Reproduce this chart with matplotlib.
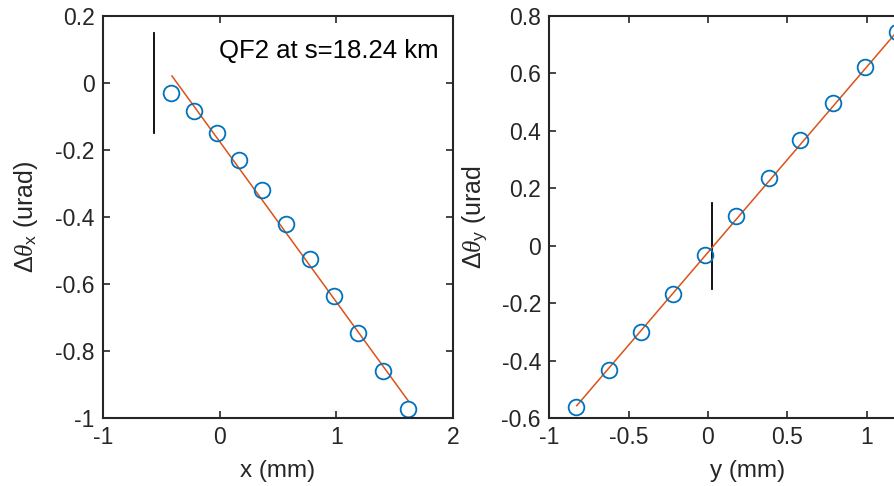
# Two-panel orbit response fit, QF2 at s=18.24 km
import numpy as np
import matplotlib
matplotlib.use('Agg')
import matplotlib.pyplot as plt
from matplotlib.ticker import FormatStrFormatter

plt.rcParams['font.family'] = ['Liberation Sans', 'DejaVu Sans']
plt.rcParams['axes.unicode_minus'] = False
plt.rcParams['mathtext.fontset'] = 'custom'
plt.rcParams['mathtext.rm'] = 'Liberation Sans'
plt.rcParams['mathtext.it'] = 'Liberation Serif:italic'

# Horizontal plane
x_mm = [-0.417, -0.223, -0.026, 0.168, 0.365, 0.565, 0.771, 0.977, 1.185, 1.40, 1.617]
dthx = [-0.031, -0.084, -0.150, -0.231, -0.320, -0.420, -0.525, -0.635, -0.747, -0.861, -0.973]
fitx_x = [-0.409, 1.617]
fitx_y = [0.021, -0.949]
markx = -0.563

# Vertical plane
y_mm = [-0.830, -0.622, -0.424, -0.221, -0.021, 0.178, 0.382, 0.580, 0.788, 0.991, 1.19]
dthy = [-0.561, -0.432, -0.301, -0.167, -0.032, 0.102, 0.237, 0.368, 0.498, 0.623, 0.745]
fity_x = [-0.827, 1.19]
fity_y = [-0.557, 0.745]
marky = 0.027

mark_half = 0.15
label_text = 'QF2 at s=18.24 km'

xticks1 = [-1, 0, 1, 2]
yticks1 = [-1, -0.8, -0.6, -0.4, -0.2, 0, 0.2]
xticks2 = [-1, -0.5, 0, 0.5, 1]
yticks2 = [-0.6, -0.4, -0.2, 0, 0.2, 0.4, 0.6, 0.8]

blue = '#0072BD'
orange = '#D95319'
dark = '#262626'

W, H = 894, 486
fig = plt.figure(figsize=(W/100, H/100), dpi=100)
ax1 = fig.add_axes([103/W, 1-418/H, 350/W, 402/H])
ax2 = fig.add_axes([549.3/W, 1-418/H, 396.7/W, 402/H])


def style(ax):
    for s in ax.spines.values():
        s.set_linewidth(1.5)
        s.set_color(dark)
    ax.tick_params(direction='in', length=5, width=1.2, top=True, right=True,
                   labelsize=16.5, colors=dark, pad=6)
    ax.yaxis.set_major_formatter(FormatStrFormatter('%g'))
    ax.xaxis.set_major_formatter(FormatStrFormatter('%g'))


# Left panel
ax1.plot([markx, markx], [-mark_half, mark_half], color='k', lw=1.3)
ax1.plot(fitx_x, fitx_y, color=orange, lw=1.1)
ax1.plot(x_mm, dthx, 'o', mfc='none', mec=blue, ms=11.3, mew=1.3)
ax1.set_xlim(-1, 2)
ax1.set_ylim(-1, 0.2)
ax1.set_xticks(xticks1)
ax1.set_yticks(yticks1)
style(ax1)
ax1.set_xlabel('x (mm)', fontsize=17.5, color=dark, labelpad=8)
ax1.set_ylabel(r'$\Delta\mathit{\theta}_{\mathrm{x}}$ (urad)', fontsize=18, color=dark)
ax1.yaxis.set_label_coords(-0.18, 0.5)
ax1.text(1.879, 0.095, label_text, ha='right', va='center', fontsize=18.5, color='k')

# Right panel
ax2.plot([marky, marky], [-mark_half, mark_half], color='k', lw=1.3)
ax2.plot(fity_x, fity_y, color=orange, lw=1.1)
ax2.plot(y_mm, dthy, 'o', mfc='none', mec=blue, ms=11.3, mew=1.3)
ax2.set_xlim(-1, 1.5)
ax2.set_ylim(-0.6, 0.8)
ax2.set_xticks(xticks2)
ax2.set_yticks(yticks2)
style(ax2)
ax2.set_xlabel('y (mm)', fontsize=17.5, color=dark, labelpad=8)
ax2.set_ylabel(r'$\Delta\mathit{\theta}_{\mathrm{y}}$ (urad', fontsize=18, color=dark)
ax2.yaxis.set_label_coords(-0.149, 0.5)

fig.savefig('out.png', dpi=100)
